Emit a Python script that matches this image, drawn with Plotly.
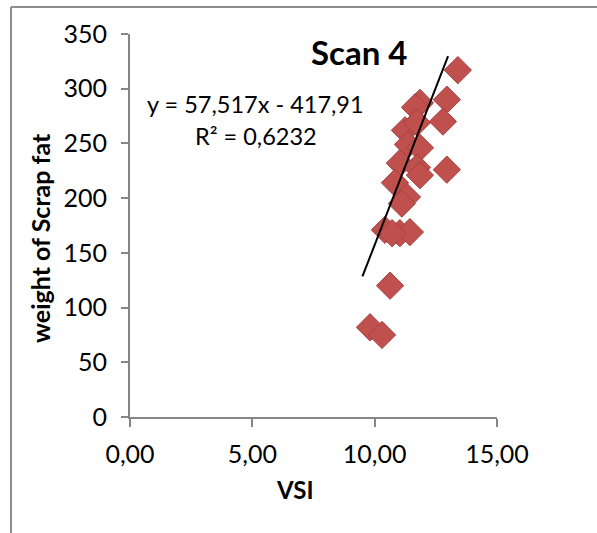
import plotly.graph_objects as go

# VSI vs weight of scrap fat, scan 4
vsi = [13.40, 12.95, 12.79, 12.95, 11.85, 11.65, 11.24, 11.73, 11.36, 11.85,
       11.03, 11.73, 11.85, 10.83, 11.32, 11.11, 10.42, 11.03, 11.44, 10.71,
       10.63, 9.81, 10.30]
scrap_fat = [317, 290, 270, 226, 287, 283, 262, 269, 249, 246,
             232, 228, 221, 214, 201, 195, 171, 168, 169, 168,
             120, 82, 75]

# linear trendline y = a*x + b
slope = 57.517
intercept = -417.91
r_squared = 0.6232
trend_x = [9.5, 13.0]
trend_y = [slope * x + intercept for x in trend_x]

x_ticks = [0, 5, 10, 15]
y_ticks = [0, 50, 100, 150, 200, 250, 300, 350]

FONT = "Lato"
AXIS_GREY = "#868686"

fig = go.Figure()

fig.add_trace(go.Scatter(
    x=vsi, y=scrap_fat, mode="markers",
    marker=dict(symbol="diamond", size=21, color="#C0504D",
                line=dict(color="#A5413F", width=1)),
    showlegend=False,
))

fig.add_trace(go.Scatter(
    x=trend_x, y=trend_y, mode="lines",
    line=dict(color="black", width=2),
    showlegend=False,
))

W, H = 597, 533
L, R, T, B = 130, 100, 34, 116
pw = W - L - R
ph = H - T - B


def px(xp):
    return (xp - L) / pw


def py(yp):
    return (H - B - yp) / ph


fig.update_layout(
    width=W, height=H,
    margin=dict(l=L, r=R, t=T, b=B),
    paper_bgcolor="white", plot_bgcolor="white",
    separators=", ",
    font=dict(family=FONT, size=25, color="black"),
    xaxis=dict(
        range=[0, 15], tickvals=x_ticks, tickformat=".2f",
        showgrid=False, zeroline=False,
        showline=True, linecolor=AXIS_GREY, linewidth=2,
        ticks="outside", ticklen=8, tickcolor=AXIS_GREY, tickwidth=2,
        ticklabelstandoff=6,
    ),
    yaxis=dict(
        range=[0, 350], tickvals=y_ticks,
        showgrid=False, zeroline=False,
        showline=True, linecolor=AXIS_GREY, linewidth=2,
        ticks="outside", ticklen=7, tickcolor=AXIS_GREY, tickwidth=2,
        ticklabelstandoff=9,
    ),
    annotations=[
        dict(text="<b>Scan 4</b>", x=px(359), y=py(52), xref="paper", yref="paper",
             showarrow=False, font=dict(size=33, family=FONT),
             xanchor="center", yanchor="middle"),
        dict(text=f"y = {slope:.3f}x - {abs(intercept):.2f}".replace(".", ","),
             x=px(255), y=py(104), xref="paper", yref="paper",
             showarrow=False, font=dict(size=23.5, family=FONT),
             xanchor="center", yanchor="middle"),
        dict(text=f"R² = {r_squared:.4f}".replace(".", ","),
             x=px(256), y=py(136), xref="paper", yref="paper",
             showarrow=False, font=dict(size=23.5, family=FONT),
             xanchor="center", yanchor="middle"),
        dict(text="<b>VSI</b>", x=px(295), y=py(489), xref="paper", yref="paper",
             showarrow=False, font=dict(size=24, family=FONT),
             xanchor="center", yanchor="middle"),
        dict(text="<b>weight of Scrap fat</b>", x=px(40), y=py(238),
             xref="paper", yref="paper", textangle=-90,
             showarrow=False, font=dict(size=25, family=FONT),
             xanchor="center", yanchor="middle"),
    ],
    shapes=[
        dict(type="line", xref="paper", yref="paper",
             x0=px(11), x1=px(W + 5), y0=py(7), y1=py(7),
             line=dict(color="#8C8C8C", width=2)),
        dict(type="line", xref="paper", yref="paper",
             x0=px(11), x1=px(11), y0=py(7), y1=py(H + 5),
             line=dict(color="#8C8C8C", width=2)),
    ],
)

fig.write_html("out.html")
